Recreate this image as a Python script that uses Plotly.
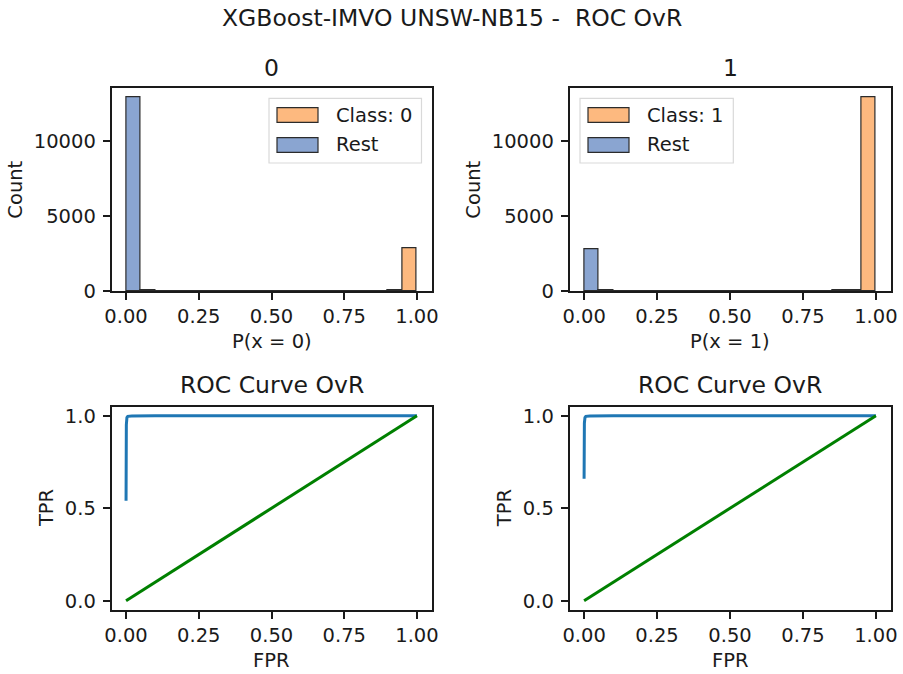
import plotly.graph_objects as go

# ---- data ----
bin_centers = [0.025 + 0.05 * i for i in range(20)]
# Subplot "0": P(x = 0)
class0_counts = [0, 0, 0, 0, 0, 0, 0, 0, 0, 0, 0, 0, 0, 0, 2, 3, 4, 6, 20, 2830]
rest0_counts = [12900, 30, 12, 8, 6, 5, 4, 4, 3, 3, 3, 3, 2, 2, 2, 2, 2, 2, 3, 5]
# Subplot "1": P(x = 1)
class1_counts = [5, 3, 2, 2, 2, 2, 2, 2, 3, 3, 4, 4, 5, 6, 8, 10, 12, 16, 30, 12950]
rest1_counts = [2800, 20, 6, 4, 3, 2, 0, 0, 0, 0, 0, 0, 0, 0, 0, 0, 0, 0, 0, 0]

roc0_fpr = [0.0, 0.0, 0.001, 0.003, 0.006, 0.02, 0.1, 0.5, 1.0]
roc0_tpr = [0.54, 0.80, 0.95, 0.99, 0.997, 0.999, 1.0, 1.0, 1.0]
roc1_fpr = [0.0, 0.0, 0.001, 0.003, 0.006, 0.02, 0.1, 0.5, 1.0]
roc1_tpr = [0.66, 0.85, 0.96, 0.99, 0.997, 0.999, 1.0, 1.0, 1.0]
diag = [0.0, 1.0]

hist_ticks = [0, 5000, 10000]
hist_ticklabels = ["0", "5000", "10000"]
unit_ticks = [0.0, 0.25, 0.5, 0.75, 1.0]
unit_ticklabels = ["0.00", "0.25", "0.50", "0.75", "1.00"]
roc_yticks = [0.0, 0.5, 1.0]
roc_yticklabels = ["0.0", "0.5", "1.0"]

ORANGE = "#fdb97f"
BLUE = "#8aa5d1"
EDGE = "#2b2b2b"
INK = "#1a1a1a"
FONT = "DejaVu Sans"
W, H = 903, 674
TICK_FS = 19.5
TITLE_FS = 23.5

def px(x):
    return x / W

def py(y):
    return 1 - y / H

fig = go.Figure()

# domains (paper coords)
xL = [px(111.5), px(431.5)]
xR = [px(569.5), px(890.5)]
yT = [py(291), py(88.3)]
yB = [py(610), py(406.5)]

def add_hist(xa, ya, cls_counts, rest_counts, cls_name):
    fig.add_trace(go.Bar(x=bin_centers, y=cls_counts, width=0.05, name=cls_name,
                         marker=dict(color=ORANGE, line=dict(color=EDGE, width=1.2)),
                         xaxis=xa, yaxis=ya, showlegend=False))
    fig.add_trace(go.Bar(x=bin_centers, y=rest_counts, width=0.05, name="Rest",
                         marker=dict(color=BLUE, line=dict(color=EDGE, width=1.2)),
                         xaxis=xa, yaxis=ya, showlegend=False))

add_hist("x", "y", class0_counts, rest0_counts, "Class: 0")
add_hist("x2", "y2", class1_counts, rest1_counts, "Class: 1")

def add_roc(xa, ya, fpr, tpr):
    fig.add_trace(go.Scatter(x=fpr, y=tpr, mode="lines", line=dict(color="#1f77b4", width=3),
                             xaxis=xa, yaxis=ya, showlegend=False))
    fig.add_trace(go.Scatter(x=diag, y=diag, mode="lines", line=dict(color="green", width=3),
                             xaxis=xa, yaxis=ya, showlegend=False))

add_roc("x3", "y3", roc0_fpr, roc0_tpr)
add_roc("x4", "y4", roc1_fpr, roc1_tpr)

axis_common = dict(showline=True, mirror=True, linecolor=INK, linewidth=1.5,
                   ticks="outside", ticklen=7, tickwidth=1.5, tickcolor=INK,
                   showgrid=False, zeroline=False, automargin=False,
                   tickfont=dict(size=TICK_FS, color=INK, family=FONT))

def xaxis(domain, anchor):
    return dict(axis_common, domain=domain, anchor=anchor, range=[-0.05, 1.05],
                tickvals=unit_ticks, ticktext=unit_ticklabels, ticklabelstandoff=0)

def yaxis(domain, anchor, rng, vals, text):
    return dict(axis_common, domain=domain, anchor=anchor, range=rng, tickvals=vals,
                ticktext=text, ticklabelstandoff=3)

fig.update_layout(
    width=W, height=H,
    margin=dict(l=0, r=0, t=0, b=0, pad=0, autoexpand=False),
    paper_bgcolor="white", plot_bgcolor="white",
    font=dict(family=FONT, size=TICK_FS, color=INK),
    barmode="overlay", bargap=0,
    xaxis=xaxis(xL, "y"),
    xaxis2=xaxis(xR, "y2"),
    xaxis3=xaxis(xL, "y3"),
    xaxis4=xaxis(xR, "y4"),
    yaxis=yaxis(yT, "x", [0, 13520], hist_ticks, hist_ticklabels),
    yaxis2=yaxis(yT, "x2", [0, 13520], hist_ticks, hist_ticklabels),
    yaxis3=yaxis(yB, "x3", [-0.05, 1.05], roc_yticks, roc_yticklabels),
    yaxis4=yaxis(yB, "x4", [-0.05, 1.05], roc_yticks, roc_yticklabels),
    showlegend=False,
)

def ann(text, x, y, size, angle=0, xanchor="center"):
    fig.add_annotation(xref="paper", yref="paper", showarrow=False, xanchor=xanchor,
                       yanchor="middle", text=text, x=x, y=y, textangle=angle,
                       font=dict(size=size, color=INK, family=FONT))

# titles
ann("XGBoost-IMVO UNSW-NB15 -\u00a0 ROC OvR", 0.5, py(18), TITLE_FS)
ann("0", sum(xL) / 2, py(68), TITLE_FS)
ann("1", sum(xR) / 2, py(68), TITLE_FS)
ann("ROC Curve OvR", sum(xL) / 2, py(385), TITLE_FS)
ann("ROC Curve OvR", sum(xR) / 2, py(385), TITLE_FS)
# axis labels
ann("P(x = 0)", sum(xL) / 2, py(341), TICK_FS)
ann("P(x = 1)", sum(xR) / 2, py(341), TICK_FS)
ann("FPR", sum(xL) / 2, py(660), TICK_FS)
ann("FPR", sum(xR) / 2, py(660), TICK_FS)
ann("Count", px(16), sum(yT) / 2, TICK_FS, angle=-90)
ann("Count", px(474), sum(yT) / 2, TICK_FS, angle=-90)
ann("TPR", px(45.8), sum(yB) / 2, TICK_FS, angle=-90)
ann("TPR", px(504), sum(yB) / 2, TICK_FS, angle=-90)

# legends (drawn as framed boxes with patches)
def legend(box_l, box_r, labels):
    fig.add_shape(type="rect", xref="paper", yref="paper",
                  x0=px(box_l), x1=px(box_r), y0=py(163), y1=py(98.3),
                  line=dict(color="#d9d9d9", width=1.2), fillcolor="rgba(255,255,255,0.8)")
    for i, (lab, col) in enumerate(labels):
        top = 107.7 + 30 * i
        fig.add_shape(type="rect", xref="paper", yref="paper",
                      x0=px(box_l + 8), x1=px(box_l + 49), y0=py(top + 14.6), y1=py(top),
                      line=dict(color=EDGE, width=1.2), fillcolor=col)
        ann(lab, px(box_l + 65), py(top + 7.3), TICK_FS, xanchor="left")

legend(269, 421.5, [("Class: 0", ORANGE), ("Rest", BLUE)])
legend(580, 733.3, [("Class: 1", ORANGE), ("Rest", BLUE)])

fig.write_html("out.html")
